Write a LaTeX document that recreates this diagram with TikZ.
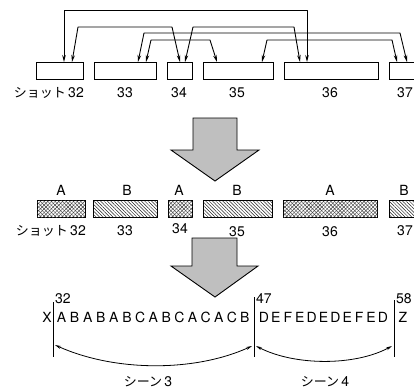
\documentclass[tikz,border=0pt]{standalone}
\usepackage{fontspec}
\setmainfont{TeX Gyre Heros}
\newfontfamily\jp{Noto Sans CJK JP}
\newcommand{\jpt}[1]{{\jp\fontsize{13}{14}\selectfont #1}}
\usetikzlibrary{arrows.meta,patterns.meta,calc}
\begin{document}
\begin{tikzpicture}[x=1pt,y=-1pt,
  box/.style={draw, line width=1.1pt, inner sep=0pt, anchor=north west, minimum height=17pt},
  dbl/.style={line width=0.9pt, line join=round, {Stealth[length=7pt,width=3.6pt]}-{Stealth[length=7pt,width=3.6pt]}},
  dblc/.style={line width=0.8pt, {Stealth[length=6pt,width=3pt]}-{Stealth[length=6pt,width=3pt]}},
  vline/.style={line width=0.8pt},
  lbl/.style={font=\fontsize{14}{16}\selectfont, inner sep=0pt},
  hatchB/.style={pattern={Lines[angle=-45,distance=2.4pt,line width=0.5pt]}, pattern color=black!85},
  hatchA/.style={pattern={Lines[angle=45,distance=2.6pt,line width=0.45pt]}, pattern color=black!75,
                 postaction={pattern={Lines[angle=-45,distance=2.6pt,line width=0.45pt]}, pattern color=black!75}},
  bigarrow/.style={fill=gray!50, draw=black, line width=0.9pt, line join=miter}]
\clip (0,0) rectangle (414,389);
\fill[white] (0,0) rectangle (414,389);

% ---------- top row ----------
\node[box, minimum width=47pt] (t32) at (36,62) {};
\node[box, minimum width=62pt] (t33) at (94,62) {};
\node[box, minimum width=25pt] (t34) at (167,62) {};
\node[box, minimum width=70pt] (t35) at (203,62) {};
\node[box, minimum width=94pt] (t36) at (284,62) {};
\node[box, minimum width=40pt] (t37) at (389,62) {};

\draw[dbl] ($(t32.north west)+(28,0)$) -- ++(0,-52) -| ($(t36.north west)+(23,0)$);
\draw[dbl] ($(t32.north west)+(36,0)$) -- ++(6,-35) -- ($(t34.north west)+(5,-35)$) -- ($(t34.north west)+(13,0)$);
\draw[dbl] ($(t34.north west)+(18,0)$) -- ++(8,-35) -- ($(t36.north west)+(10,-35)$) -- ($(t36.north west)+(16,0)$);
\draw[dbl] ($(t33.north west)+(44,0)$) -- ++(6,-29) -- ($(t37.north west)+(11,-29)$) -- ($(t37.north west)+(18,0)$);
\draw[dbl] ($(t33.north west)+(52,0)$) -- ++(5,-22) -- ($(t35.north west)+(7,-22)$) -- ($(t35.north west)+(14,0)$);
\draw[dbl] ($(t35.north west)+(59,0)$) -- ++(5,-22) -- ($(t37.north west)+(3,-22)$) -- ($(t37.north west)+(8,0)$);

\node[lbl, anchor=base east] (lt32) at (84,97) {\jpt{ショット}\,32};
\node[lbl, anchor=base] (lt33) at (125,97) {33};
\node[lbl, anchor=base] (lt34) at (179,97) {34};
\node[lbl, anchor=base] (lt35) at (237,97) {35};
\node[lbl, anchor=base] (lt36) at (330,97) {36};
\node[lbl, anchor=base] (lt37) at (405,97) {37};

% ---------- arrow 1 ----------
\draw[bigarrow] (193,118) -- (237,118) -- (237,150) -- (259,150) -- (215,181) -- (171,150) -- (193,150) -- cycle;

% ---------- middle row ----------
\node[lbl, anchor=base] (c32) at (61,195) {A};
\node[lbl, anchor=base] (c33) at (127,195) {B};
\node[lbl, anchor=base] (c34) at (179,195) {A};
\node[lbl, anchor=base] (c35) at (237,195) {B};
\node[lbl, anchor=base] (c36) at (330,195) {A};
\node[lbl, anchor=base] (c37) at (404,195) {B};

\node[box, hatchA, minimum width=48pt] (m32) at (37,200) {};
\node[box, hatchB, minimum width=64pt] (m33) at (93,200) {};
\node[box, hatchA, minimum width=24pt] (m34) at (168,200) {};
\node[box, hatchB, minimum width=69pt] (m35) at (203,200) {};
\node[box, hatchA, minimum width=94pt] (m36) at (283,200) {};
\node[box, hatchB, minimum width=40pt] (m37) at (389,200) {};

\node[lbl, anchor=base east] (lm32) at (86,235) {\jpt{ショット}\,32};
\node[lbl, anchor=base] (lm33) at (125,235) {33};
\node[lbl, anchor=base] (lm34) at (180,233) {34};
\node[lbl, anchor=base] (lm35) at (237,236) {35};
\node[lbl, anchor=base] (lm36) at (330,236) {36};
\node[lbl, anchor=base] (lm37) at (405,235) {37};

% ---------- arrow 2 ----------
\draw[bigarrow] (192,238) -- (237,238) -- (237,266) -- (258,266) -- (215,297) -- (171,266) -- (192,266) -- cycle;

% ---------- bottom ----------
\coordinate (v1t) at (53,302);  \coordinate (v1b) at (53,357);
\coordinate (v2t) at (254,297); \coordinate (v2b) at (254,357);
\coordinate (v3t) at (394,300); \coordinate (v3b) at (394,357);
\draw[vline] (v1t) -- (v1b);
\draw[vline] (v2t) -- (v2b);
\draw[vline] (v3t) -- (v3b);

\node[lbl, anchor=base west] (n32) at (55,303) {32};
\node[lbl, anchor=base west] (n47) at (256,303) {47};
\node[lbl, anchor=base west] (n58) at (396,303) {58};

\node[lbl, anchor=base] (sx) at (47,322) {X};
\foreach \c [count=\i from 0] in {A,B,A,B,A,B,C,A,B,C,A,C,A,C,B}
  \node[lbl, anchor=base] (sa\i) at (61.5+13.1*\i,322) {\c};
\foreach \c [count=\i from 0] in {D,E,F,E,D,E,D,E,F,E,D}
  \node[lbl, anchor=base] (sb\i) at (264+11.9*\i,322) {\c};
\node[lbl, anchor=base] (sz) at (403,322) {Z};

\coordinate (a1s) at (55,345);  \coordinate (a1e) at (252,346);
\coordinate (a2s) at (256,346); \coordinate (a2e) at (392,346);
\draw[dblc] (a1s) .. controls (115,372) and (195,372) .. (a1e);
\draw[dblc] (a2s) .. controls (295,366) and (355,366) .. (a2e);

\node[lbl, anchor=base] (sc3) at (148,386) {\jpt{シーン}\,3};
\node[lbl, anchor=base] (sc4) at (325,386) {\jpt{シーン}\,4};
\end{tikzpicture}
\end{document}
